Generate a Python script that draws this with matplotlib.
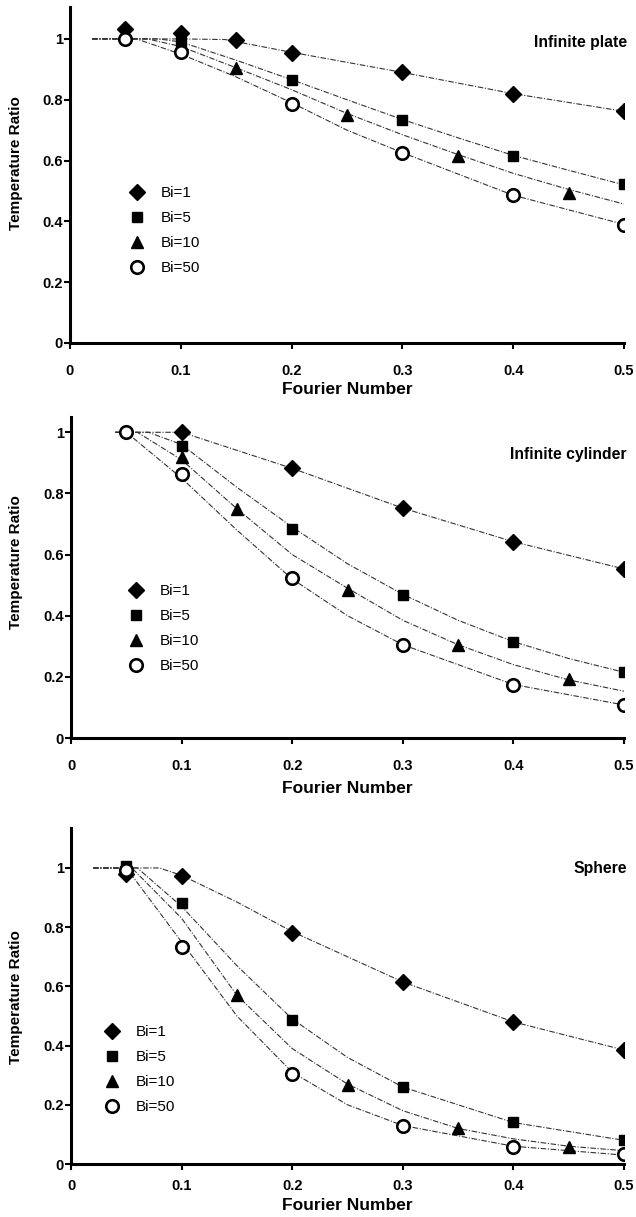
import matplotlib
matplotlib.use("Agg")
import matplotlib.pyplot as plt

plt.rcParams['font.family'] = ['Liberation Sans', 'DejaVu Sans']

labels = ["Bi=1", "Bi=5", "Bi=10", "Bi=50"]
markers = ["D", "s", "^", "o"]
titles = ["Infinite plate", "Infinite cylinder", "Sphere"]

# ---- Infinite plate: measured points ----
plate_x = [[0.05, 0.1, 0.15, 0.2, 0.3, 0.4, 0.5],
           [0.1, 0.2, 0.3, 0.4, 0.5],
           [0.15, 0.25, 0.35, 0.45],
           [0.05, 0.1, 0.2, 0.3, 0.4, 0.5]]
plate_y = [[1.033, 1.02, 0.998, 0.954, 0.89, 0.819, 0.762],
           [0.99, 0.866, 0.732, 0.616, 0.522],
           [0.904, 0.75, 0.615, 0.492],
           [1.0, 0.956, 0.786, 0.626, 0.486, 0.388]]
# ---- Infinite plate: model curves ----
plate_cx = [[0.02, 0.1, 0.14, 0.2, 0.3, 0.4, 0.5],
            [0.02, 0.08, 0.1, 0.15, 0.2, 0.25, 0.3, 0.35, 0.4, 0.45, 0.5],
            [0.02, 0.07, 0.1, 0.15, 0.2, 0.25, 0.3, 0.35, 0.4, 0.45, 0.5],
            [0.02, 0.06, 0.1, 0.15, 0.2, 0.25, 0.3, 0.4, 0.5]]
plate_cy = [[1.0, 1.0, 0.998, 0.956, 0.89, 0.82, 0.762],
            [1.0, 1.0, 0.99, 0.93, 0.866, 0.80, 0.735, 0.675, 0.617, 0.568, 0.52],
            [1.0, 1.0, 0.975, 0.905, 0.833, 0.755, 0.685, 0.62, 0.558, 0.505, 0.457],
            [1.0, 1.0, 0.95, 0.875, 0.79, 0.70, 0.626, 0.486, 0.39]]

# ---- Infinite cylinder: measured points ----
cyl_x = [[0.1, 0.2, 0.3, 0.4, 0.5],
         [0.1, 0.2, 0.3, 0.4, 0.5],
         [0.1, 0.15, 0.25, 0.35, 0.45],
         [0.05, 0.1, 0.2, 0.3, 0.4, 0.5]]
cyl_y = [[1.0, 0.882, 0.753, 0.642, 0.554],
         [0.955, 0.684, 0.467, 0.314, 0.216],
         [0.919, 0.749, 0.484, 0.303, 0.193],
         [1.0, 0.864, 0.523, 0.303, 0.175, 0.108]]
# ---- Infinite cylinder: model curves ----
cyl_cx = [[0.04, 0.1, 0.2, 0.3, 0.4, 0.5],
          [0.04, 0.07, 0.1, 0.15, 0.2, 0.25, 0.3, 0.35, 0.4, 0.45, 0.5],
          [0.04, 0.06, 0.1, 0.15, 0.2, 0.25, 0.3, 0.35, 0.4, 0.45, 0.5],
          [0.04, 0.05, 0.1, 0.15, 0.2, 0.25, 0.3, 0.4, 0.5]]
cyl_cy = [[1.0, 1.0, 0.882, 0.752, 0.642, 0.553],
          [1.0, 1.0, 0.96, 0.82, 0.69, 0.57, 0.47, 0.385, 0.315, 0.26, 0.215],
          [1.0, 1.0, 0.91, 0.75, 0.60, 0.49, 0.385, 0.305, 0.24, 0.19, 0.153],
          [1.0, 1.0, 0.85, 0.68, 0.52, 0.40, 0.305, 0.175, 0.108]]

# ---- Sphere: measured points ----
sph_x = [[0.05, 0.1, 0.2, 0.3, 0.4, 0.5],
         [0.05, 0.1, 0.2, 0.3, 0.4, 0.5],
         [0.15, 0.25, 0.35, 0.45],
         [0.05, 0.1, 0.2, 0.3, 0.4, 0.5]]
sph_y = [[0.981, 0.974, 0.782, 0.614, 0.481, 0.386],
         [1.005, 0.882, 0.485, 0.259, 0.143, 0.081],
         [0.572, 0.267, 0.121, 0.059],
         [0.992, 0.732, 0.304, 0.13, 0.056, 0.034]]
# ---- Sphere: model curves ----
sph_cx = [[0.02, 0.08, 0.1, 0.15, 0.2, 0.3, 0.4, 0.5],
          [0.02, 0.06, 0.1, 0.15, 0.2, 0.25, 0.3, 0.4, 0.5],
          [0.02, 0.055, 0.1, 0.15, 0.2, 0.25, 0.3, 0.35, 0.4, 0.45, 0.5],
          [0.02, 0.05, 0.1, 0.15, 0.2, 0.25, 0.3, 0.4, 0.5]]
sph_cy = [[1.0, 1.0, 0.975, 0.885, 0.785, 0.615, 0.48, 0.385],
          [1.0, 1.0, 0.87, 0.67, 0.49, 0.36, 0.26, 0.14, 0.08],
          [1.0, 1.0, 0.83, 0.57, 0.39, 0.27, 0.18, 0.12, 0.085, 0.06, 0.045],
          [1.0, 1.0, 0.75, 0.50, 0.31, 0.20, 0.13, 0.06, 0.03]]

xticks = [0, 0.1, 0.2, 0.3, 0.4, 0.5]
xticklabels = ["0", "0.1", "0.2", "0.3", "0.4", "0.5"]
yticks = [0, 0.2, 0.4, 0.6, 0.8, 1.0]
yticklabels = ["0", "0.2", "0.4", "0.6", "0.8", "1"]

W, H = 636, 1217
fig = plt.figure(figsize=(W / 100, H / 100), dpi=100)

panels = [
    dict(l=70, r=624, t=7, b=343, ytop=1.105, px=plate_x, py=plate_y, cx=plate_cx, cy=plate_cy,
         leg=(136, 192), title_y=43, xl_y=382, yl_y=163, xpad=11),
    dict(l=71, r=624, t=417, b=738, ytop=1.05, px=cyl_x, py=cyl_y, cx=cyl_cx, cy=cyl_cy,
         leg=(135, 590), title_y=455, xl_y=781, yl_y=562, xpad=11),
    dict(l=71, r=624, t=828, b=1164, ytop=1.135, px=sph_x, py=sph_y, cx=sph_cx, cy=sph_cy,
         leg=(111, 1031), title_y=868, xl_y=1198, yl_y=997, xpad=7),
]

msize = {"D": 8.5, "s": 7.5, "^": 9, "o": 9}

for i, p in enumerate(panels):
    hpx = p['b'] - p['t']
    wpx = p['r'] - p['l']
    ax = fig.add_axes([p['l'] / W, 1 - p['b'] / H, wpx / W, hpx / H])
    ax.set_xlim(0, 0.5)
    ax.set_ylim(0, p['ytop'])
    for spn in ['top', 'right']:
        ax.spines[spn].set_visible(False)
    for spn in ['left', 'bottom']:
        ax.spines[spn].set_linewidth(2.2)
    for k in range(4):
        ax.plot(p['cx'][k], p['cy'][k], color='#333333', lw=0.8,
                linestyle=(0, (5, 1.5, 1, 1.5)), zorder=2)
    for k in range(4):
        m = markers[k]
        if m == 'o':
            ax.plot(p['px'][k], p['py'][k], linestyle='none', marker='o', ms=msize[m],
                    mfc='white', mec='black', mew=1.9, label=labels[k], zorder=3)
        else:
            ax.plot(p['px'][k], p['py'][k], linestyle='none', marker=m, ms=msize[m],
                    mfc='black', mec='black', label=labels[k], zorder=3)
    ax.set_xticks(xticks)
    ax.set_xticklabels(xticklabels)
    ax.set_yticks(yticks)
    ax.set_yticklabels(yticklabels)
    ax.tick_params(axis='both', direction='out', length=4, width=1.5, labelsize=10.5)
    ax.tick_params(axis='x', pad=p['xpad'])
    ax.tick_params(axis='y', pad=1)
    for t in ax.get_xticklabels() + ax.get_yticklabels():
        t.set_fontweight('bold')
    ax.set_xlabel("Fourier Number", fontsize=12.5, fontweight='bold')
    ax.set_ylabel("Temperature Ratio", fontsize=11, fontweight='bold')
    ax.xaxis.set_label_coords(0.5, 1 - (p['xl_y'] - p['t']) / hpx)
    ax.yaxis.set_label_coords((23 - p['l']) / wpx, 1 - (p['yl_y'] - p['t']) / hpx)
    ax.text(627 / W, 1 - p['title_y'] / H, titles[i], transform=fig.transFigure,
            ha='right', va='center', fontsize=11.3, fontweight='bold')
    lx, ly = p['leg']
    ax.legend(loc='upper left', frameon=False, fontsize=11,
              bbox_to_anchor=((lx - 8.5 - p['l']) / wpx,
                              1 - (ly - 6 - p['t']) / hpx),
              handlelength=1.2, handletextpad=1.0, labelspacing=0.73,
              borderaxespad=0, borderpad=0)

fig.savefig("out.png", dpi=100)
